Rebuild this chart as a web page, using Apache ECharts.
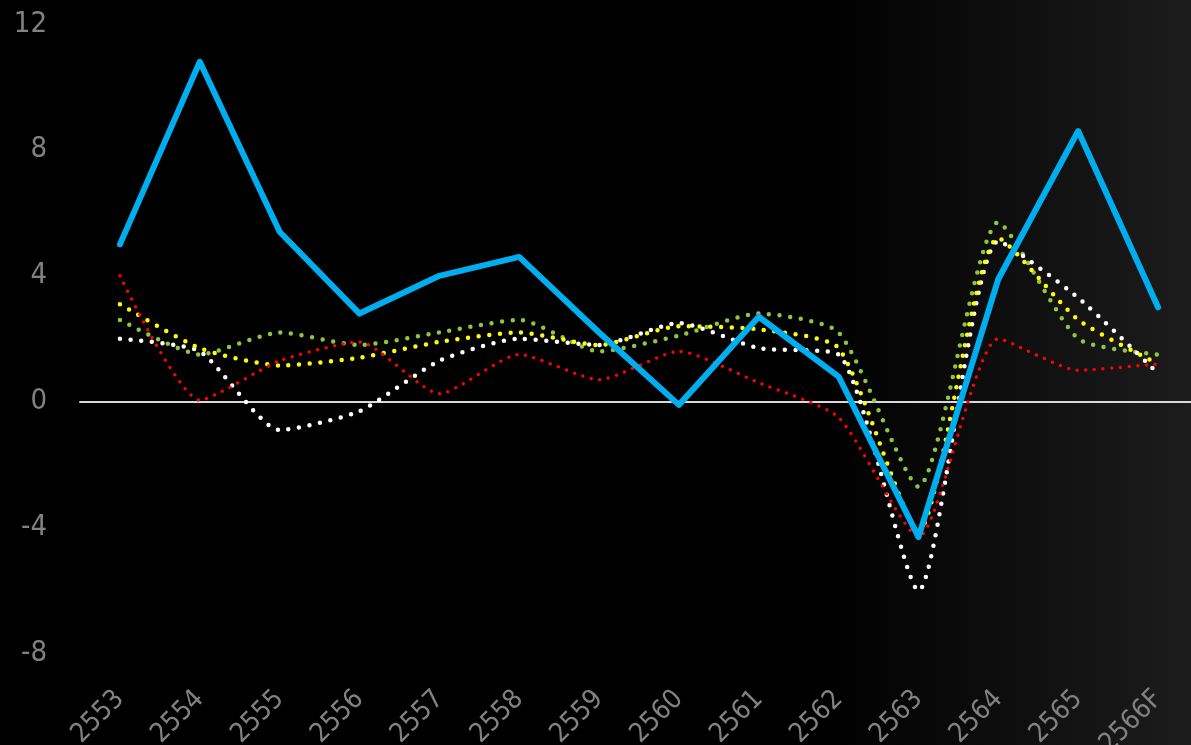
<!DOCTYPE html>
<html>
<head>
<meta charset="utf-8">
<script src="https://cdn.jsdelivr.net/npm/echarts@6/dist/echarts.min.js"></script>
<style>
  html, body { margin: 0; padding: 0; background: #000; }
  #main {
    width: 1191px; height: 745px;
    background: linear-gradient(to right, #000000 0%, #000000 69%, #1c1c1c 100%);
  }
</style>
</head>
<body>
<div id="main"></div>
<script>
var years = ['2553', '2554', '2555', '2556', '2557', '2558', '2559', '2560', '2561', '2562', '2563', '2564', '2565', '2566F'];
var blueLine = [5.0, 10.8, 5.4, 2.8, 4.0, 4.6, 2.2, -0.1, 2.7, 0.8, -4.3, 3.9, 8.6, 3.0];
var redLine = [4.0, 0.05, 1.3, 1.9, 0.25, 1.5, 0.7, 1.6, 0.6, -0.5, -4.3, 2.0, 1.0, 1.2];
var yellowLine = [3.1, 1.7, 1.15, 1.4, 1.9, 2.2, 1.8, 2.4, 2.3, 1.7, -4.1, 5.2, 2.6, 1.2];
var greenLine = [2.6, 1.5, 2.2, 1.8, 2.2, 2.6, 1.6, 2.1, 2.8, 2.2, -2.7, 5.7, 2.0, 1.5];
var whiteLine = [2.0, 1.6, -0.9, -0.3, 1.3, 2.0, 1.8, 2.5, 1.7, 1.5, -6.0, 5.1, 3.3, 0.9];
var yTicks = [-8, -4, 0, 4, 8, 12];

var labelFont = "'DejaVu Sans Condensed', 'DejaVu Sans', sans-serif";

function dotted(name, data, color, width, gap, z) {
  return {
    name: name,
    type: 'line',
    data: data,
    smooth: 0.2,
    symbol: 'none',
    z: z,
    lineStyle: { color: color, width: width, type: [0, gap], cap: 'round' }
  };
}

var chart = echarts.init(document.getElementById('main'));
chart.setOption({
  backgroundColor: 'transparent',
  animation: false,
  grid: { left: 80, right: -7, top: 24, bottom: 60, containLabel: false, outerBoundsMode: 'none' },
  xAxis: {
    type: 'category',
    data: years,
    boundaryGap: true,
    axisLine: { onZero: true, lineStyle: { color: '#d9d9d9', width: 2 } },
    axisTick: { show: false },
    axisLabel: { rotate: 45, margin: 10, color: '#828282', fontSize: 27, fontFamily: labelFont, interval: 0 }
  },
  yAxis: {
    type: 'value',
    min: -9,
    max: 12,
    axisLine: { show: false },
    axisTick: { show: false },
    splitLine: { show: false },
    axisLabel: { customValues: yTicks, margin: 33, color: '#828282', fontSize: 29, fontFamily: labelFont }
  },
  series: [
    dotted('green', greenLine, '#8dc63f', 4.5, 10.7, 2),
    dotted('white', whiteLine, '#ffffff', 4.5, 10.7, 3),
    dotted('yellow', yellowLine, '#ffff00', 4.5, 10.7, 4),
    dotted('red', redLine, '#ff0000', 3.5, 8.7, 5),
    {
      name: 'blue',
      type: 'line',
      data: blueLine,
      symbol: 'none',
      z: 10,
      lineStyle: { color: '#00aeef', width: 6, cap: 'round', join: 'round' }
    }
  ]
});
</script>
</body>
</html>
